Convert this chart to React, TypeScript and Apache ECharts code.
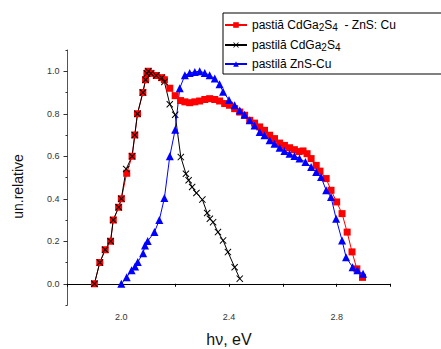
import React, { useEffect, useRef } from "react";
import * as echarts from "echarts";

const redX = [1.9, 1.92, 1.94, 1.96, 1.97, 1.99, 2.0, 2.02, 2.04, 2.05, 2.06, 2.08, 2.09, 2.095, 2.1, 2.11, 2.13, 2.15, 2.16, 2.18, 2.2, 2.22, 2.236, 2.254, 2.273, 2.291, 2.31, 2.328, 2.347, 2.365, 2.384, 2.402, 2.421, 2.44, 2.458, 2.477, 2.495, 2.514, 2.532, 2.551, 2.569, 2.588, 2.606, 2.625, 2.643, 2.66, 2.675, 2.69, 2.705, 2.724, 2.738, 2.761, 2.779, 2.8, 2.82, 2.839, 2.857, 2.875, 2.896];
const redY = [0.0, 0.1, 0.16, 0.2, 0.3, 0.36, 0.4, 0.52, 0.6, 0.7, 0.8, 0.9, 0.96, 0.99, 1.0, 0.99, 0.98, 0.97, 0.96, 0.92, 0.885, 0.862, 0.856, 0.852, 0.856, 0.86, 0.867, 0.871, 0.867, 0.86, 0.848, 0.84, 0.824, 0.808, 0.793, 0.769, 0.756, 0.738, 0.722, 0.699, 0.683, 0.662, 0.651, 0.64, 0.631, 0.622, 0.625, 0.612, 0.589, 0.557, 0.53, 0.495, 0.44, 0.385, 0.33, 0.243, 0.15, 0.07, 0.03];

const blackX = [1.9, 1.92, 1.94, 1.96, 1.97, 1.99, 2.0, 2.018, 2.04, 2.05, 2.06, 2.08, 2.09, 2.095, 2.1, 2.11, 2.13, 2.15, 2.16, 2.18, 2.2, 2.221, 2.24, 2.25, 2.263, 2.279, 2.301, 2.319, 2.329, 2.341, 2.359, 2.378, 2.396, 2.421, 2.44];
const blackY = [0.0, 0.1, 0.16, 0.2, 0.3, 0.36, 0.4, 0.54, 0.6, 0.7, 0.8, 0.9, 0.96, 0.99, 1.0, 0.99, 0.98, 0.97, 0.95, 0.845, 0.795, 0.596, 0.518, 0.487, 0.455, 0.427, 0.396, 0.333, 0.306, 0.29, 0.243, 0.204, 0.149, 0.078, 0.024];

const blueX = [2.0, 2.02, 2.038, 2.051, 2.061, 2.081, 2.088, 2.098, 2.123, 2.141, 2.16, 2.18, 2.2, 2.217, 2.236, 2.254, 2.273, 2.291, 2.31, 2.328, 2.347, 2.365, 2.378, 2.4, 2.421, 2.44, 2.458, 2.477, 2.495, 2.514, 2.532, 2.551, 2.569, 2.588, 2.606, 2.625, 2.643, 2.662, 2.684, 2.705, 2.724, 2.742, 2.761, 2.779, 2.798, 2.82, 2.835, 2.859, 2.877, 2.898];
const blueY = [0.0, 0.031, 0.063, 0.081, 0.102, 0.144, 0.18, 0.201, 0.243, 0.3, 0.403, 0.6, 0.725, 0.92, 0.981, 0.992, 0.997, 1.0, 0.992, 0.981, 0.966, 0.939, 0.903, 0.865, 0.84, 0.815, 0.795, 0.769, 0.745, 0.714, 0.699, 0.675, 0.659, 0.64, 0.625, 0.612, 0.601, 0.589, 0.573, 0.549, 0.526, 0.502, 0.44, 0.408, 0.306, 0.204, 0.125, 0.078, 0.063, 0.047];

const seriesNames = ["redSeries", "blackSeries", "blueSeries"];
const legendLabels = [
  "pastiă CdGa{s|2}S{s|4}  - ZnS: Cu",
  "pastilă CdGa{s|2}S{s|4}",
  "pastilă ZnS-Cu",
];
const xLabelTicks = [2.0, 2.4, 2.8];
const yLabelTicks = [0.0, 0.2, 0.4, 0.6, 0.8, 1.0];
const xName = "hν, eV";
const yName = "un.relative";

const FONT = "Liberation Sans, Arial, sans-serif";
const CROSS = "path://M0,1 L1,0 L5,4 L9,0 L10,1 L6,5 L10,9 L9,10 L5,6 L1,10 L0,9 L4,5 Z";

function zip(xs: number[], ys: number[]) {
  return xs.map((x, i) => [x, ys[i]]);
}

export default function App() {
  const ref = useRef<HTMLDivElement>(null);
  useEffect(() => {
    if (!ref.current) return;
    const chart = echarts.init(ref.current, undefined, { renderer: "svg" });
    const xAxisBase = {
      type: "value" as const,
      min: 1.8,
      max: 3.0,
      interval: 0.2,
      splitLine: { show: false },
    };
    const yAxisBase = {
      type: "value" as const,
      min: -0.1,
      max: 1.1,
      interval: 0.1,
      splitLine: { show: false },
    };
    chart.setOption({
      animation: false,
      backgroundColor: "#fff",
      grid: { left: 67.5, top: 50, right: 50.5, bottom: 44, containLabel: false },
      legend: {
        data: seriesNames,
        orient: "vertical",
        left: 223,
        top: 13,
        padding: [4, 60, 3, 1],
        borderColor: "#000",
        borderWidth: 1,
        itemGap: 5,
        itemWidth: 22,
        itemHeight: 7,
        formatter: (name: string) => legendLabels[seriesNames.indexOf(name)],
        textStyle: {
          fontFamily: FONT,
          fontSize: 12,
          color: "#000",
          lineHeight: 14,
          rich: {
            s: { fontFamily: FONT, fontSize: 10, color: "#000", lineHeight: 10, verticalAlign: "bottom", padding: [5, 0, 0, 0] },
          },
        },
      },
      xAxis: {
        ...xAxisBase,
        axisLine: { show: true, lineStyle: { color: "#000", width: 1 } },
        axisTick: { show: true, length: 3, lineStyle: { color: "#000" } },
        axisLabel: {
          show: true,
          margin: 7,
          fontSize: 9,
          fontFamily: FONT,
          color: "#333",
          customValues: xLabelTicks,
          formatter: (v: number) => v.toFixed(1),
        },
      },
      yAxis: [
        {
          ...yAxisBase,
          axisLine: { show: true, lineStyle: { color: "#555", width: 1 } },
          axisTick: { show: true, length: 2, lineStyle: { color: "#333" } },
          axisLabel: { show: false },
        },
        {
          ...yAxisBase,
          position: "left",
          axisLine: { show: false },
          axisTick: { show: true, length: 4, customValues: yLabelTicks, lineStyle: { color: "#333" } },
          axisLabel: {
            show: true,
            margin: 8,
            fontSize: 9,
            fontFamily: FONT,
            color: "#333",
            customValues: yLabelTicks,
            formatter: (v: number) => v.toFixed(1),
          },
        },
      ],
      graphic: [
        {
          type: "text",
          x: 229,
          y: 339,
          style: { text: xName, fontSize: 16, fontFamily: FONT, fill: "#111", align: "center", verticalAlign: "middle" },
        },
        {
          type: "text",
          x: 18,
          y: 186.5,
          rotation: Math.PI / 2,
          style: { text: yName, fontSize: 14, fontFamily: FONT, fill: "#111", align: "center", verticalAlign: "middle" },
        },
      ],
      series: [
        {
          name: seriesNames[0],
          type: "line",
          data: zip(redX, redY),
          symbol: "rect",
          symbolSize: 7,
          itemStyle: { color: "#ff0000" },
          lineStyle: { color: "#ff0000", width: 1 },
        },
        {
          name: seriesNames[1],
          type: "line",
          data: zip(blackX, blackY),
          symbol: CROSS,
          symbolSize: 7,
          itemStyle: { color: "#000" },
          lineStyle: { color: "#000", width: 1 },
        },
        {
          name: seriesNames[2],
          type: "line",
          data: zip(blueX, blueY),
          symbol: "triangle",
          symbolSize: 8,
          itemStyle: { color: "#0000ff" },
          lineStyle: { color: "#0000ff", width: 1 },
        },
      ],
    });
    return () => chart.dispose();
  }, []);
  return <div ref={ref} style={{ width: 441, height: 349, position: "absolute", left: 0, top: 0 }} />;
}
